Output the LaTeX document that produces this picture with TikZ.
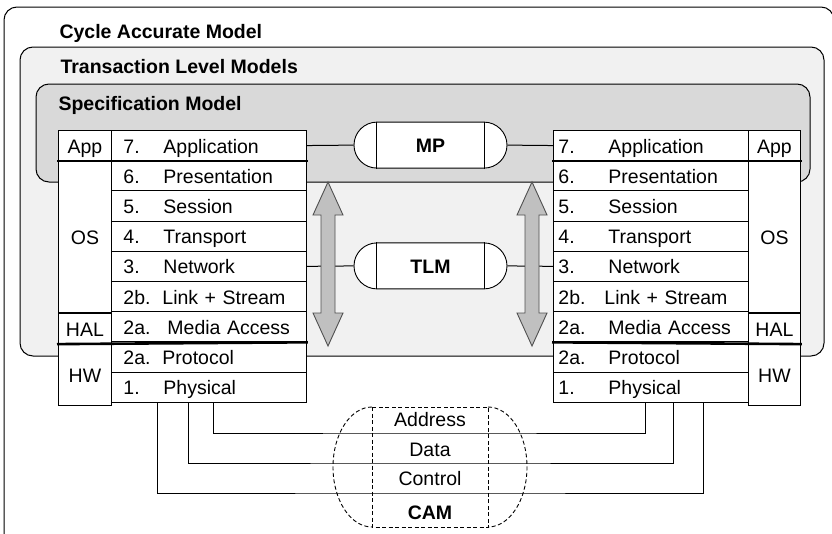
\documentclass[tikz,border=0pt]{standalone}
\usepackage{fontspec}
\setmainfont{Liberation Sans}
\usetikzlibrary{positioning,shapes.misc}
\definecolor{tlmgray}{HTML}{F1F1F1}
\definecolor{specgray}{HTML}{D9D9D9}
\definecolor{arrgray}{HTML}{C0C0C0}
\definecolor{arredge}{HTML}{505050}

\begin{document}
\begin{tikzpicture}[x=1pt,y=-1pt,
  every node/.style={font=\fontsize{19.5}{23}\selectfont},
  model/.style={draw,line width=1pt,rounded corners=13pt},
  title/.style={anchor=base west,font=\fontsize{19.5}{23}\selectfont\bfseries},
  layer/.style={draw,fill=white,line width=0.9pt,anchor=north west,minimum height=30.2pt,inner ysep=0pt,text height=15pt,text depth=0pt,align=left},
  side/.style={draw,fill=white,line width=0.9pt,inner sep=0pt,text height=15pt,text depth=0pt},
  sep/.style={line width=2.6pt,shorten <=-1pt,shorten >=-1pt},
  pill/.style={draw,fill=white,line width=0.9pt,rounded rectangle,minimum width=153pt,minimum height=46pt,inner sep=0pt,text height=15pt,text depth=0pt,font=\fontsize{19.5}{23}\selectfont\bfseries},
  wire/.style={line width=1pt},
  updown/.style={draw=arredge,fill=arrgray,line width=0.9pt,line join=miter},
  camline/.style={line width=0.9pt,dash pattern=on 4pt off 2.5pt},
  buslabel/.style={text height=14pt,text depth=0pt}]
  \useasboundingbox (0,0) rectangle (832,533);

  \draw[model,fill=white] (4,7) rectangle (834,548);
  \draw[model,fill=tlmgray] (20,47) rectangle (824,356);
  \draw[model,fill=specgray] (36,84) rectangle (810,182);
  \node[title] (cyc) at (56,38) {Cycle Accurate Model};
  \node[title] (tlms) at (57,73) {Transaction Level Models};
  \node[title] (spec) at (55,110) {Specification Model};

  \foreach \nm/\num/\txt/\w [count=\i from 0] in {7/7./Application/40,6/6./Presentation/40,5/5./Session/40,4/4./Transport/40,3/3./Network/40,2b/2b./Link + Stream/39,2a/2a./Media Access/44,p/2a./Protocol/39,1/1./Physical/40}
    \node[layer,inner xsep=12pt,text width=171pt] (l\nm) at (111,130+30.2*\i) {\makebox[\w pt][l]{\num}\txt};
  \foreach \nm/\num/\txt/\w [count=\i from 0] in {7/7./Application/50,6/6./Presentation/50,5/5./Session/50,4/4./Transport/50,3/3./Network/50,2b/2b./Link + Stream/46,2a/2a./Media Access/50,p/2a./Protocol/50,1/1./Physical/50}
    \node[layer,inner xsep=5pt,text width=185pt] (r\nm) at (553,130+30.2*\i) {\makebox[\w pt][l]{\num}\txt};

  \node[side,anchor=north west,minimum width=53pt,minimum height=30.2pt] (lapp) at (58,130) {App};
  \node[side,minimum width=53pt,minimum height=151pt,below=0pt of lapp] (los) {OS};
  \node[side,minimum width=53pt,minimum height=30.2pt,below=0pt of los] (lhal) {HAL};
  \node[side,minimum width=53pt,minimum height=60.4pt,below=0pt of lhal] (lhw) {HW};
  \node[side,anchor=north west,minimum width=52pt,minimum height=30.2pt] (rapp) at (748,130) {App};
  \node[side,minimum width=52pt,minimum height=151pt,below=0pt of rapp] (ros) {OS};
  \node[side,minimum width=52pt,minimum height=30.2pt,below=0pt of ros] (rhal) {HAL};
  \node[side,minimum width=52pt,minimum height=60.4pt,below=0pt of rhal] (rhw) {HW};

  \draw[sep] (lapp.south west) -- (l7.south east);
  \draw[sep] (lhal.south west) -- (l2a.south east);
  \draw[sep] (r7.south west) -- (rapp.south east);
  \draw[sep] (r2a.south west) -- (rhal.south east);

  \node[pill] (mp) at (430.5,145.1) {MP};
  \node[pill] (tlm) at (430.5,265.9) {TLM};
  \foreach \p in {mp,tlm} {
    \draw[line width=0.9pt] ([xshift=-54pt]\p.north) -- ([xshift=-54pt]\p.south);
    \draw[line width=0.9pt] ([xshift=54pt]\p.north) -- ([xshift=54pt]\p.south);
  }
  \draw[wire] (l7.east) -- (mp.west);
  \draw[wire] (mp.east) -- (r7.west);
  \draw[wire] (l3.east) -- (tlm.west);
  \draw[wire] (tlm.east) -- (r3.west);

  \foreach \ax in {328,532}
    \draw[updown] (\ax,182) -- (\ax+15,215) -- (\ax+7,215) -- (\ax+7,313) -- (\ax+15,313) -- (\ax,346)
      -- (\ax-15,313) -- (\ax-7,313) -- (\ax-7,215) -- (\ax-15,215) -- cycle;

  \coordinate (busA) at (430,433);
  \coordinate (busD) at (430,463);
  \coordinate (busC) at (430,493);
  \draw[wire] ([xshift=102pt]l1.south west) |- (busA) -| ([xshift=92pt]r1.south west);
  \draw[wire] ([xshift=77pt]l1.south west) |- (busD) -| ([xshift=120pt]r1.south west);
  \draw[wire] ([xshift=46pt]l1.south west) |- (busC) -| ([xshift=150pt]r1.south west);

  \draw[camline] (372,407) rectangle (488,527);
  \draw[camline] (372,407) arc[start angle=270,end angle=90,x radius=39,y radius=60];
  \draw[camline] (488,407) arc[start angle=-90,end angle=90,x radius=39,y radius=60];
  \node[buslabel] (addr) at (430,419) {Address};
  \node[buslabel] (data) at (430,449) {Data};
  \node[buslabel] (ctrl) at (430,478) {Control};
  \node[buslabel,font=\fontsize{19.5}{23}\selectfont\bfseries] (cam) at (430,512) {CAM};
\end{tikzpicture}
\end{document}
